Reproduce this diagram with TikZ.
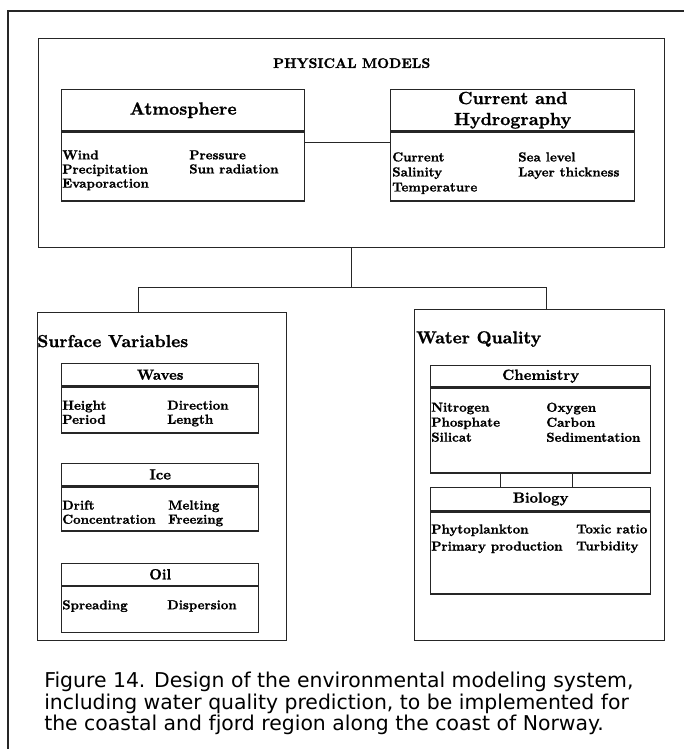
\documentclass[tikz,border=0pt]{standalone}
\usepackage{fontspec}
\newfontfamily\capfont{DejaVu Sans}
\newfontfamily\boxfont{lmroman10-bold}[Extension=.otf, FakeBold=1.2]
\usepackage{tikz}
\usetikzlibrary{positioning}

\begin{document}
\begin{tikzpicture}[
	x=0.75pt, y=-0.75pt,
	framebox/.style={rectangle, draw=black!85, line width=1.05pt, inner sep=0pt},
	bigbox/.style={framebox, anchor=north west},
	headbox/.style={framebox, align=center, font=\boxfont\fontsize{13.2}{15.75}\selectfont},
	subhead/.style={framebox, font=\boxfont\fontsize{11}{13}\selectfont},
	bodybox/.style={framebox},
	divider/.style={draw=black!85, line width=1.5pt},
	link/.style={draw=black!85, line width=1.05pt},
	item/.style={inner sep=0pt, align=left, font=\boxfont\fontsize{9.8}{10.6}\selectfont},
	title/.style={inner sep=0pt, font=\boxfont\fontsize{13}{15}\selectfont},
	]
	\useasboundingbox (0,0) rectangle (684,749);
	%Frame
	\draw[link] (8,760) -- (8,11) -- (690,11);

	%Nodes
	\node[bigbox](pm)[minimum width=469.5pt, minimum height=156.75pt] at (38,38) {};
	\node[inner sep=0pt, font=\boxfont\fontsize{10.4}{12}\selectfont](pmtitle)[below=15pt of pm.north]{PHYSICAL MODELS};

	\node[headbox](atmhead)[anchor=north west, minimum width=182.25pt, minimum height=30.75pt] at (61,89) {Atmosphere};
	\node[bodybox](atmbody)[minimum width=182.25pt, minimum height=51.75pt, below=0pt of atmhead]{};
	\node[item](atmleft)[below right=14pt and 0.75pt of atmbody.north west]{Wind\\Precipitation\\Evaporaction};
	\node[item](atmright)[below right=14pt and 96pt of atmbody.north west]{Pressure\\Sun radiation};

	\node[headbox](curhead)[anchor=north west, minimum width=183pt, minimum height=30.75pt] at (390,89) {Current and\\Hydrography};
	\node[bodybox](curbody)[minimum width=183pt, minimum height=51.75pt, below=0pt of curhead]{};
	\node[item, font=\boxfont\fontsize{9.8}{11.25}\selectfont](curleft)[below right=15.5pt and 1.5pt of curbody.north west]{Current\\Salinity\\Temperature};
	\node[item, font=\boxfont\fontsize{9.8}{11.25}\selectfont](curright)[below right=15.5pt and 96pt of curbody.north west]{Sea level\\Layer thickness};

	\node[bigbox](sv)[minimum width=186.75pt, minimum height=246pt] at (37,312) {};
	\node[title, anchor=north west](svtitle)[below right=17pt and 0pt of sv.north west]{Surface Variables};

	\node[subhead](waveshead)[anchor=north west, minimum width=147.75pt, minimum height=16.5pt] at (61,363) {Waves};
	\node[bodybox](wavesbody)[minimum width=147.75pt, minimum height=34.5pt, below=0pt of waveshead]{};
	\node[item](wavesleft)[below right=10.5pt and 0.75pt of wavesbody.north west]{Height\\Period};
	\node[item](wavesright)[below right=10.5pt and 79.5pt of wavesbody.north west]{Direction\\Length};

	\node[subhead](icehead)[minimum width=147.75pt, minimum height=16.5pt, below=21.75pt of wavesbody]{Ice};
	\node[bodybox](icebody)[minimum width=147.75pt, minimum height=33pt, below=0pt of icehead]{};
	\node[item](iceleft)[below right=10.5pt and 0.75pt of icebody.north west]{Drift\\Concentration};
	\node[item](iceright)[below right=10.5pt and 80.25pt of icebody.north west]{Melting\\Freezing};

	\node[subhead](oilhead)[minimum width=147.75pt, minimum height=16.5pt, below=23.25pt of icebody]{Oil};
	\node[bodybox](oilbody)[minimum width=147.75pt, minimum height=34.5pt, below=0pt of oilhead]{};
	\node[item](oilleft)[below right=10.5pt and 0.75pt of oilbody.north west]{Spreading};
	\node[item](oilright)[below right=10.5pt and 79.5pt of oilbody.north west]{Dispersion};

	\node[bigbox](wq)[minimum width=187.5pt, minimum height=248.25pt] at (414,309) {};
	\node[title, anchor=north west](wqtitle)[below right=16.5pt and 1.5pt of wq.north west]{Water Quality};

	\node[subhead](chemhead)[anchor=north west, minimum width=165pt, minimum height=15.75pt] at (430,365) {Chemistry};
	\node[bodybox](chembody)[minimum width=165pt, minimum height=63.75pt, below=0pt of chemhead]{};
	\node[item, font=\boxfont\fontsize{9.8}{11.25}\selectfont](chemleft)[below right=11.25pt and 0.75pt of chembody.north west]{Nitrogen\\Phosphate\\Silicat};
	\node[item, font=\boxfont\fontsize{9.8}{11.25}\selectfont](chemright)[below right=11.25pt and 87pt of chembody.north west]{Oxygen\\Carbon\\Sedimentation};

	\node[subhead](biohead)[minimum width=165pt, minimum height=17.25pt, below=9.75pt of chembody]{Biology};
	\node[bodybox](biobody)[minimum width=165pt, minimum height=61.5pt, below=0pt of biohead]{};
	\node[item, font=\boxfont\fontsize{9.8}{12.75}\selectfont](bioleft)[below right=9.75pt and 0.75pt of biobody.north west]{Phytoplankton\\Primary production};
	\node[item, font=\boxfont\fontsize{9.8}{12.75}\selectfont](bioright)[below right=9.75pt and 109.5pt of biobody.north west]{Toxic ratio\\Turbidity};

	\node[inner sep=0pt, anchor=north west, align=left, font=\capfont\fontsize{15.3}{16.1}\selectfont](caption) at (44,672) {Figure 14. Design of the environmental modeling system,\\including water quality prediction, to be implemented for\\the coastal and fjord region along the coast of Norway.};

	%Lines
	\foreach \b in {atmbody,curbody,wavesbody,icebody,oilbody,chembody,biobody}
		\draw[divider] (\b.north west) -- (\b.north east);
	\draw[link] ([yshift=-8.25pt]atmbody.north east) -- ([yshift=-8.25pt]curbody.north west);
	\coordinate[below=29.25pt of pm.south] (split);
	\draw[link] (pm.south) -- (split);
	\draw[link] ([xshift=-17.6pt]sv.north) |- (split) -| ([xshift=5.25pt]wq.north);
	\draw[link] ([xshift=-30pt]chembody.south) -- ([xshift=-30pt]biohead.north);
	\draw[link] ([xshift=24pt]chembody.south) -- ([xshift=24pt]biohead.north);

\end{tikzpicture}
\end{document}
